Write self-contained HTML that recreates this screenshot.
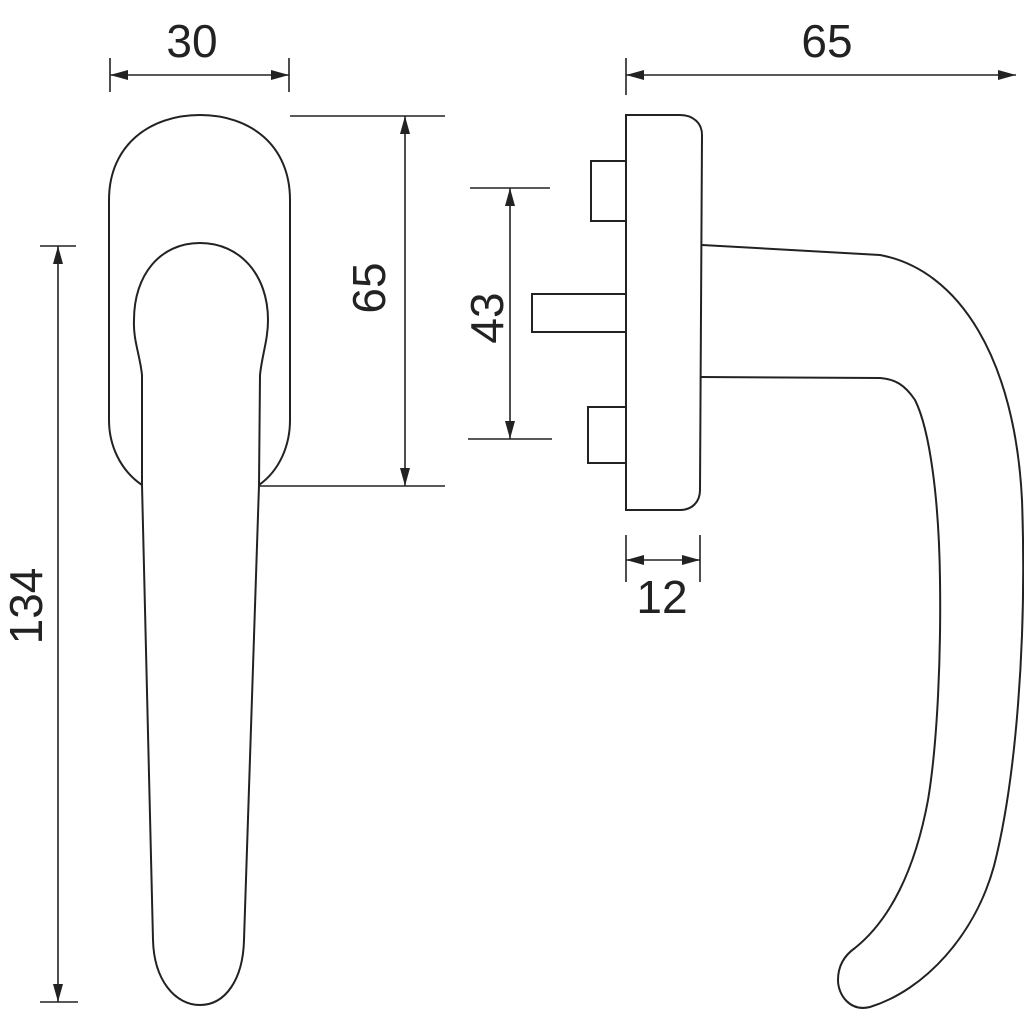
<!DOCTYPE html>
<html><head><style>html,body{margin:0;padding:0;background:#fff}</style></head><body>
<svg width="1024" height="1024" viewBox="0 0 1024 1024" xmlns="http://www.w3.org/2000/svg">
<defs>
<marker id="a" markerWidth="18" markerHeight="10" refX="18" refY="5" orient="auto-start-reverse" markerUnits="userSpaceOnUse"><path d="M0,0 L18,5 L0,10 Z" fill="#222"/></marker>
</defs>
<g fill="none" stroke="#222" stroke-width="2">
<path d="M142,485 C120,470 109,445 109,420 L109,200 C109,145 150,115 200,115 C250,115 290,145 290,200 L290,420 C290,445 280,470 259,485"/>
<path d="M142,485 L142,375 C140,355 133,340 134,320 C134,275 160,243 200,243 C240,243 268,275 268,320 C268,340 262,355 260,375 L259,485 L244,940 C243,980 225,1005 200,1005 C175,1005 154,980 153,940 L142,485"/>
<path d="M626,115 L680,115 C693,115 702,123 702,135 L700,490 C700,502 692,510 680,510 L626,510 Z"/>
<rect x="591" y="161" width="35" height="60"/>
<rect x="532" y="294" width="94" height="38"/>
<rect x="588" y="407" width="38" height="56"/>
<path d="M702,245 L880,255 C960,270 1015,360 1022,500 C1027,640 1016,780 994,866 C975,935 925,990 870,1007 C850,1012 838,995 838,980 C838,965 845,955 855,948 C890,920 915,870 928,800 C938,740 941,650 940,580 C939,500 930,430 915,400 C905,385 895,379 880,378 L700,377"/>
</g>
<g stroke="#222" stroke-width="1.6" fill="none">
<line x1="110" y1="58" x2="110" y2="92"/><line x1="289" y1="58" x2="289" y2="92"/>
<line x1="110" y1="75" x2="289" y2="75" marker-start="url(#a)" marker-end="url(#a)"/>
<line x1="626" y1="58" x2="626" y2="95"/>
<line x1="626" y1="75" x2="1016" y2="75" marker-start="url(#a)" marker-end="url(#a)"/>
<line x1="290" y1="116" x2="445" y2="116"/><line x1="260" y1="486" x2="445" y2="486"/>
<line x1="405" y1="116" x2="405" y2="486" marker-start="url(#a)" marker-end="url(#a)"/>
<line x1="470" y1="188" x2="550" y2="188"/><line x1="468" y1="439" x2="552" y2="439"/>
<line x1="510" y1="188" x2="510" y2="439" marker-start="url(#a)" marker-end="url(#a)"/>
<line x1="40" y1="246" x2="76" y2="246"/><line x1="40" y1="1002" x2="78" y2="1002"/>
<line x1="58" y1="246" x2="58" y2="1002" marker-start="url(#a)" marker-end="url(#a)"/>
<line x1="626" y1="535" x2="626" y2="582"/><line x1="700" y1="535" x2="700" y2="582"/>
<line x1="626" y1="560" x2="700" y2="560" marker-start="url(#a)" marker-end="url(#a)"/>
</g>
<g font-family="Liberation Sans, sans-serif" font-size="46" fill="#222" text-anchor="middle">
<text x="192" y="57">30</text>
<text x="827" y="57">65</text>
<text x="662" y="613">12</text>
<text transform="translate(385,288) rotate(-90)">65</text>
<text transform="translate(503,318) rotate(-90)">43</text>
<text transform="translate(42,606) rotate(-90)">134</text>
</g>
</svg>
</body></html>
